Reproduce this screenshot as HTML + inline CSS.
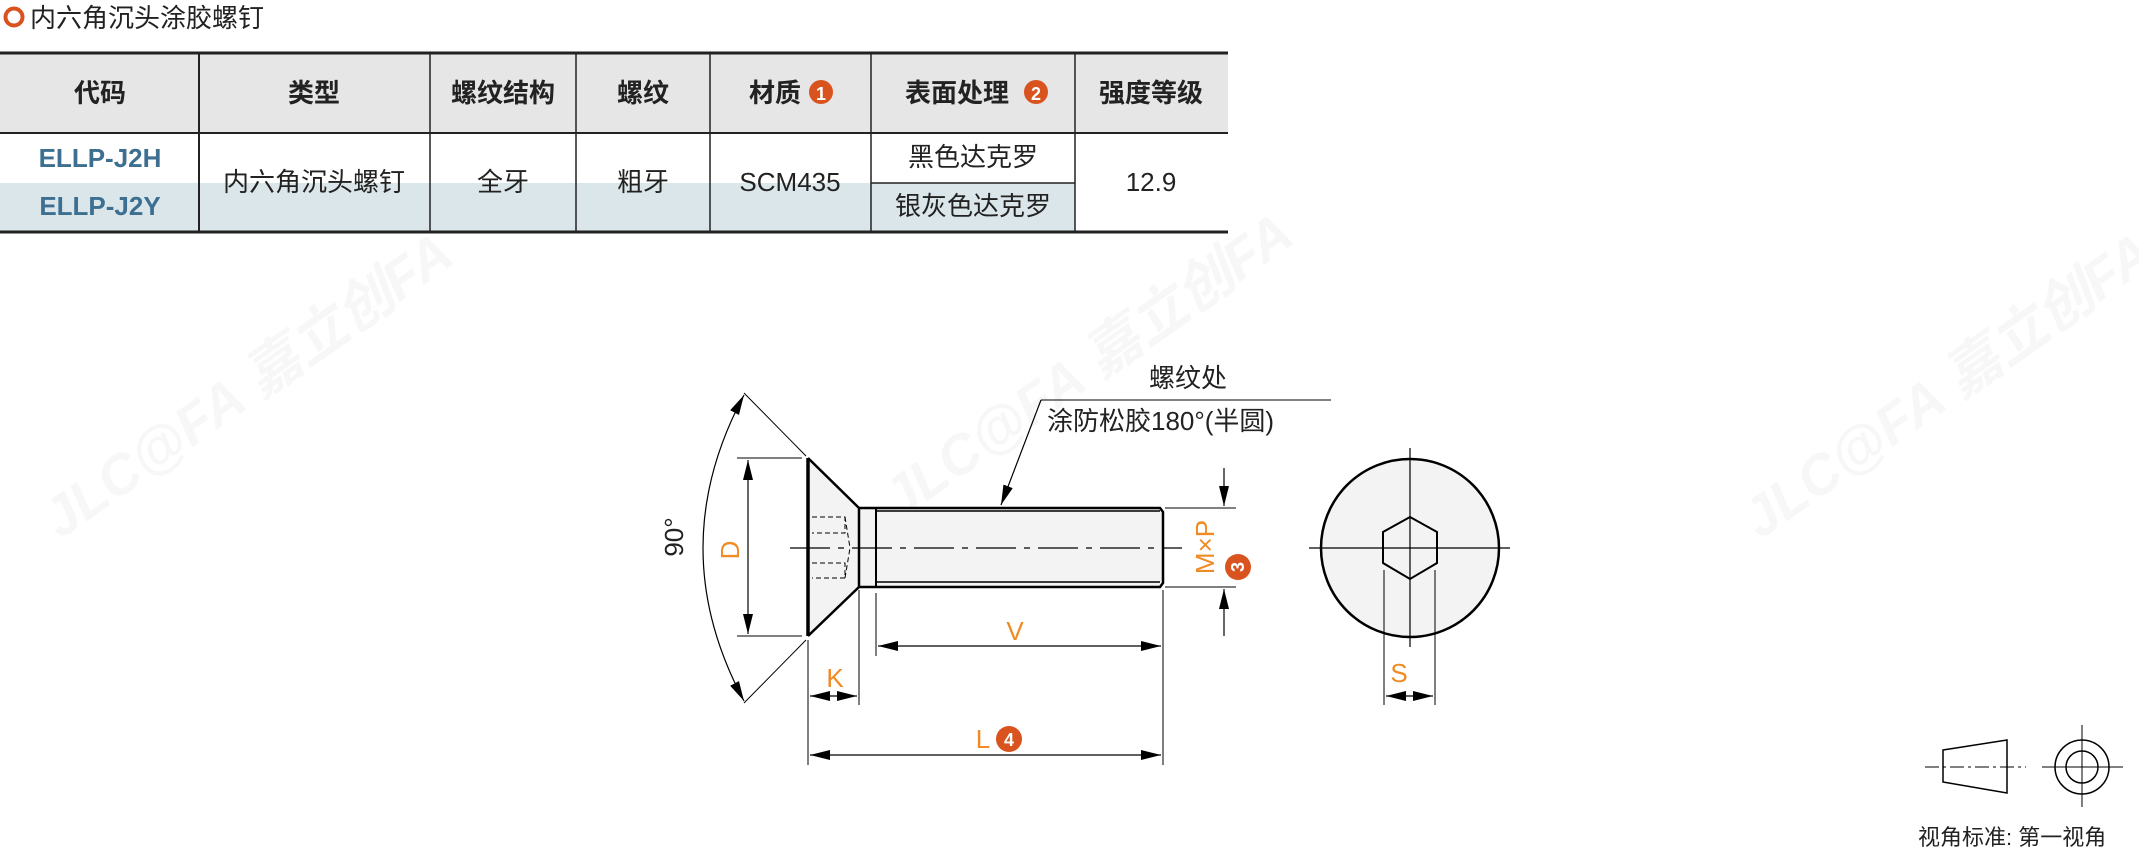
<!DOCTYPE html>
<html><head><meta charset="utf-8"><style>
html,body{margin:0;padding:0;background:#fff;}
svg{display:block;}
text{font-family:"Liberation Sans","Noto Sans CJK SC",sans-serif;}
</style></head><body>
<svg width="2139" height="854" viewBox="0 0 2139 854" xmlns="http://www.w3.org/2000/svg">
<defs>
<marker id="ar" viewBox="0 0 20 10" refX="20" refY="5" markerWidth="20" markerHeight="10" markerUnits="userSpaceOnUse" orient="auto-start-reverse"><path d="M0,0 L20,5 L0,10 Z" fill="#000"/></marker>
</defs>
<circle cx="14" cy="17" r="8.5" fill="none" stroke="#d9531e" stroke-width="4"/>
<text x="30" y="27" font-size="26" fill="#222">内六角沉头涂胶螺钉</text>
<rect x="0" y="53" width="1228" height="80" fill="#e6e6e6"/>
<rect x="0" y="183" width="871" height="49" fill="#dbe6ea"/>
<rect x="871" y="183" width="204" height="49" fill="#dbe6ea"/>
<g stroke="#222" stroke-width="1.5">
<line x1="0" y1="53" x2="1228" y2="53" stroke-width="3"/>
<line x1="0" y1="133" x2="1228" y2="133" stroke-width="2"/>
<line x1="0" y1="232" x2="1228" y2="232" stroke-width="3"/>
<line x1="871" y1="183" x2="1075" y2="183"/>
<line x1="199" y1="53" x2="199" y2="232" stroke-width="2"/>
<line x1="430" y1="53" x2="430" y2="232"/>
<line x1="576" y1="53" x2="576" y2="232"/>
<line x1="710" y1="53" x2="710" y2="232"/>
<line x1="871" y1="53" x2="871" y2="232"/>
<line x1="1075" y1="53" x2="1075" y2="232"/>
</g>
<g font-size="26" font-weight="bold" fill="#222" text-anchor="middle">
<text x="100" y="102">代码</text>
<text x="314" y="102">类型</text>
<text x="503" y="102">螺纹结构</text>
<text x="643" y="102">螺纹</text>
<text x="775" y="102">材质</text>
<text x="957" y="102">表面处理</text>
<text x="1151" y="102">强度等级</text>
</g>
<circle cx="821" cy="92" r="12" fill="#d9531e"/><text x="821" y="100" font-size="18" font-weight="bold" fill="#fff" text-anchor="middle">1</text>
<circle cx="1036" cy="92" r="12" fill="#d9531e"/><text x="1036" y="100" font-size="18" font-weight="bold" fill="#fff" text-anchor="middle">2</text>
<g font-size="26" fill="#222" text-anchor="middle">
<text x="100" y="167" font-weight="bold" fill="#3d6f91">ELLP-J2H</text>
<text x="100" y="215" font-weight="bold" fill="#3d6f91">ELLP-J2Y</text>
<text x="314" y="191">内六角沉头螺钉</text>
<text x="503" y="191">全牙</text>
<text x="643" y="191">粗牙</text>
<text x="790" y="191">SCM435</text>
<text x="973" y="166">黑色达克罗</text>
<text x="973" y="215">银灰色达克罗</text>
<text x="1151" y="191">12.9</text>
</g>
<g fill="#000" opacity="0.035" font-size="56" font-weight="bold" font-style="italic">
<text transform="translate(60,540) rotate(-35)">JLC@FA 嘉立创FA</text>
<text transform="translate(900,520) rotate(-35)">JLC@FA 嘉立创FA</text>
<text transform="translate(1760,540) rotate(-35)">JLC@FA 嘉立创FA</text>
</g>
<polygon points="808,458 859,508 1163,508 1163,587 859,587 808,636" fill="#f3f3f3"/>
<g stroke="#000" fill="none">
<line x1="808" y1="458" x2="808" y2="636" stroke-width="3.5"/>
<polyline points="808,458 859,508 859,587 808,636" stroke-width="2.5"/>
<path d="M859,508 H1160 L1163,512 V583 L1160,587 H859" stroke-width="2.5"/>
<line x1="876" y1="508" x2="876" y2="587" stroke-width="2"/>
<line x1="876" y1="511" x2="1160" y2="511" stroke-width="1.5"/>
<line x1="876" y1="582" x2="1160" y2="582" stroke-width="1.5"/>
<g stroke-width="1" stroke-dasharray="5,3">
<path d="M812,517 H845 V533 H812"/>
<path d="M812,563 H845 V578 H812"/>
<line x1="845" y1="517" x2="850" y2="548"/>
<line x1="845" y1="578" x2="850" y2="548"/>
</g>
<line x1="790" y1="548" x2="1182" y2="548" stroke-width="1.2" stroke-dasharray="40,8,6,8"/>
<line x1="737" y1="458" x2="802" y2="458" stroke-width="1"/>
<line x1="737" y1="636" x2="802" y2="636" stroke-width="1"/>
<line x1="748" y1="460" x2="748" y2="634" stroke-width="1.2" marker-start="url(#ar)" marker-end="url(#ar)"/>
<line x1="744" y1="393" x2="806" y2="456" stroke-width="1"/>
<line x1="806" y1="640" x2="744" y2="703" stroke-width="1"/>
<path d="M744,395 Q662,548 744,701" stroke-width="1.2" marker-start="url(#ar)" marker-end="url(#ar)"/>
<line x1="808" y1="640" x2="808" y2="765" stroke-width="1"/>
<line x1="859" y1="590" x2="859" y2="705" stroke-width="1"/>
<line x1="876" y1="593" x2="876" y2="656" stroke-width="1"/>
<line x1="1163" y1="590" x2="1163" y2="765" stroke-width="1"/>
<line x1="878" y1="646" x2="1161" y2="646" stroke-width="1.2" marker-start="url(#ar)" marker-end="url(#ar)"/>
<line x1="810" y1="696" x2="834" y2="696" stroke-width="1.2" marker-start="url(#ar)"/>
<line x1="834" y1="696" x2="857" y2="696" stroke-width="1.2" marker-end="url(#ar)"/>
<line x1="810" y1="755" x2="1161" y2="755" stroke-width="1.2" marker-start="url(#ar)" marker-end="url(#ar)"/>
<line x1="1165" y1="508" x2="1236" y2="508" stroke-width="1"/>
<line x1="1165" y1="587" x2="1236" y2="587" stroke-width="1"/>
<line x1="1224" y1="468" x2="1224" y2="506" stroke-width="1.2" marker-end="url(#ar)"/>
<line x1="1224" y1="636" x2="1224" y2="589" stroke-width="1.2" marker-end="url(#ar)"/>
<polyline points="1331,400 1041,400" stroke-width="1"/>
<line x1="1041" y1="400" x2="1001" y2="505" stroke-width="1.2" marker-end="url(#ar)"/>
</g>
<g font-size="26" fill="#f08a24" text-anchor="middle">
<text transform="translate(739,550) rotate(-90)">D</text>
<text x="1015" y="640">V</text>
<text x="835" y="687">K</text>
<text x="983" y="748">L</text>
<text transform="translate(1214,547) rotate(-90)">M×P</text>
<text x="1399" y="682">S</text>
</g>
<text transform="translate(683,537) rotate(-90)" font-size="26" fill="#222" text-anchor="middle">90°</text>
<circle cx="1009" cy="739" r="13" fill="#d9531e"/><text x="1009" y="746" font-size="18" font-weight="bold" fill="#fff" text-anchor="middle">4</text>
<circle cx="1238" cy="567" r="13" fill="#d9531e"/><text transform="translate(1238,567) rotate(-90)" x="0" y="6" font-size="18" font-weight="bold" fill="#fff" text-anchor="middle">3</text>
<text x="1188" y="387" font-size="26" fill="#222" text-anchor="middle">螺纹处</text>
<text x="1047" y="430" font-size="26" fill="#222">涂防松胶180°(半圆)</text>
<g stroke="#000" fill="none">
<circle cx="1410" cy="548" r="89" fill="#f3f3f3" stroke-width="2.5"/>
<line x1="1309" y1="548" x2="1510" y2="548" stroke-width="1.2"/>
<line x1="1410" y1="448" x2="1410" y2="647" stroke-width="1.2"/>
<polygon points="1410,517 1437,532 1437,563 1410,579 1383,563 1383,532" stroke-width="2"/>
<line x1="1384" y1="570" x2="1384" y2="705" stroke-width="1"/>
<line x1="1435" y1="570" x2="1435" y2="705" stroke-width="1"/>
<line x1="1386" y1="696" x2="1409" y2="696" stroke-width="1.2" marker-start="url(#ar)"/>
<line x1="1409" y1="696" x2="1433" y2="696" stroke-width="1.2" marker-end="url(#ar)"/>
</g>
<g stroke="#000" fill="none" stroke-width="1.5">
<polygon points="1943,750 2007,740 2007,793 1943,782"/>
<line x1="1925" y1="767" x2="2026" y2="767" stroke-width="1" stroke-dasharray="14,4,3,4"/>
<circle cx="2082" cy="767" r="27"/>
<circle cx="2082" cy="767" r="16"/>
<line x1="2042" y1="767" x2="2123" y2="767" stroke-width="1"/>
<line x1="2082" y1="725" x2="2082" y2="807" stroke-width="1"/>
</g>
<text x="1918" y="845" font-size="22" fill="#222">视角标准: 第一视角</text>
</svg>
</body></html>
